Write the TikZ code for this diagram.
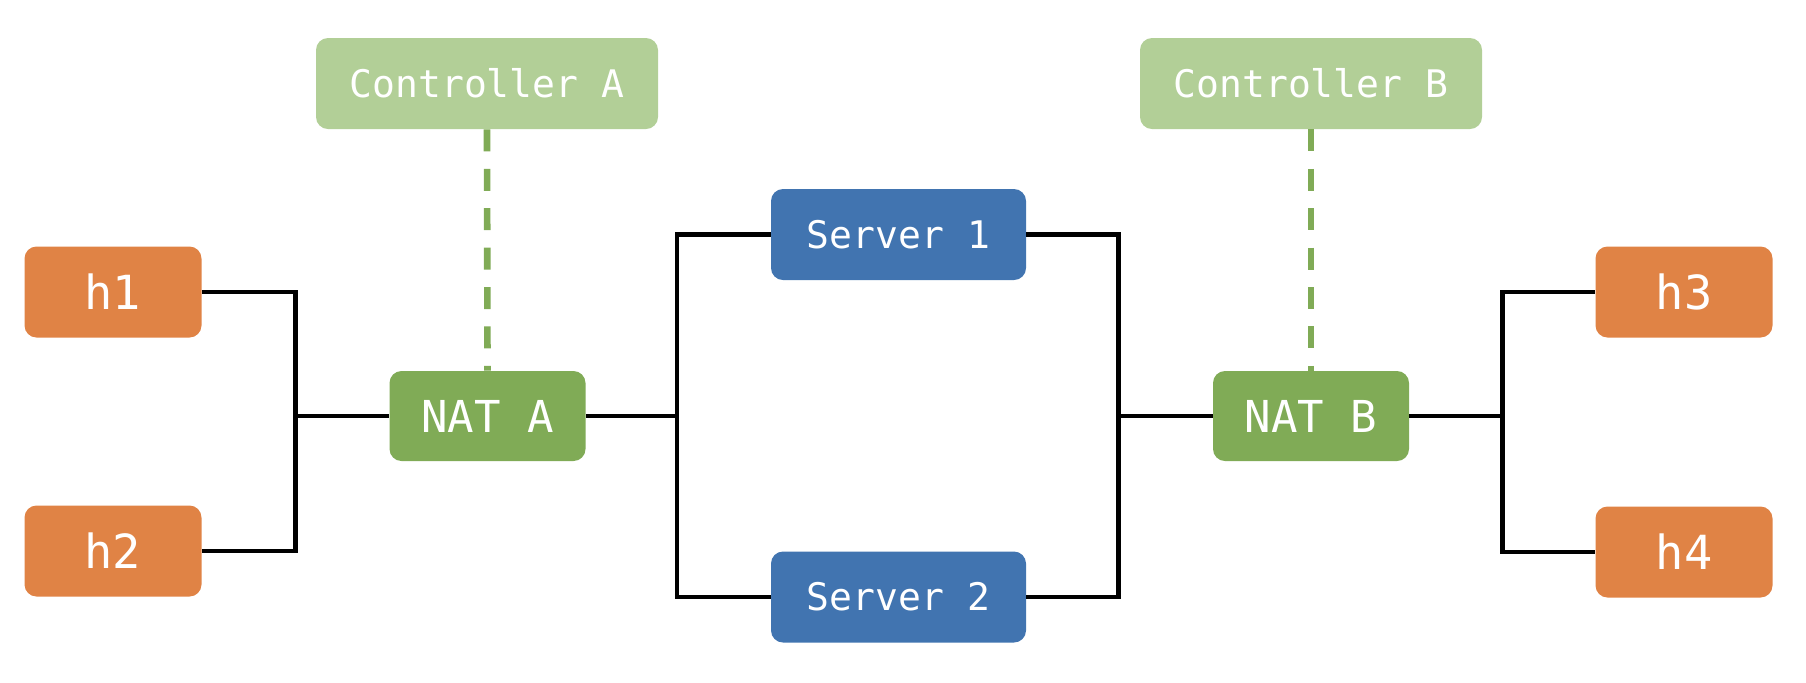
\documentclass[tikz,border=0pt]{standalone}
\usepackage{fontspec}
\setmonofont{DejaVu Sans Mono}
\usepackage{xcolor}
\usepackage{tikz}
\usetikzlibrary{positioning}

\definecolor{hostorange}{HTML}{E08345}
\definecolor{ctrlgreen}{HTML}{B2CF97}
\definecolor{natgreen}{HTML}{80AB56}
\definecolor{serverblue}{HTML}{4174B0}

\tikzset{
  box/.style={rounded corners=6pt, inner sep=0pt, text=white,
              font=\ttfamily\fontsize{19}{23}\selectfont},
  hostbox/.style={box, fill=hostorange, minimum width=88.5pt,
                  minimum height=45.5pt, font=\ttfamily\fontsize{23.5}{28}\selectfont},
  ctrlbox/.style={box, fill=ctrlgreen, minimum width=171pt, minimum height=45.5pt},
  natbox/.style={box, fill=natgreen, minimum width=98pt,
                 minimum height=45pt, font=\ttfamily\fontsize{22}{26}\selectfont},
  serverbox/.style={box, fill=serverblue, minimum width=127.5pt, minimum height=45.5pt},
  wire/.style={black, line width=2.3pt},
  ctrllink/.style={natgreen, line width=3.3pt, dash pattern=on 11pt off 8.7pt}
}

\begin{document}
\begin{tikzpicture}[x=0.5pt,y=-0.5pt]
\useasboundingbox (0,0) rectangle (1806,682);

% hosts
\foreach \n/\x/\y in {h1/113/292, h2/113/551, h3/1684/292, h4/1684/552}
  \node[hostbox] (\n) at (\x,\y) {\n};

% controllers and NATs
\node[ctrlbox] (ctrlA) at (487,83.5) {Controller A};
\node[ctrlbox] (ctrlB) at (1311,83.5) {Controller B};
\node[natbox] (natA) at (487.5,416) {NAT A};
\node[natbox] (natB) at (1311,416) {NAT B};

% servers
\node[serverbox] (s1) at (898.5,234.5) {Server 1};
\node[serverbox] (s2) at (898.5,597) {Server 2};

% junctions
\coordinate (jA) at (295.5,416);
\coordinate (jS) at (677,416);
\coordinate (jT) at (1118.5,416);
\coordinate (jB) at (1502.5,416);

\draw[wire] (h1.east) -| (jA) |- (h2.east);
\draw[wire] (jA) -- (natA.west);
\draw[wire] (natA.east) -- (jS);
\draw[wire] (s1.west) -| (jS) |- (s2.west);
\draw[wire] (s1.east) -| (jT) |- (s2.east);
\draw[wire] (jT) -- (natB.west);
\draw[wire] (natB.east) -- (jB);
\draw[wire] (h3.west) -| (jB) |- (h4.west);

% control links
\draw[ctrllink] (ctrlA.south) -- (natA.north);
\draw[ctrllink] (ctrlB.south) -- (natB.north);
\end{tikzpicture}
\end{document}
